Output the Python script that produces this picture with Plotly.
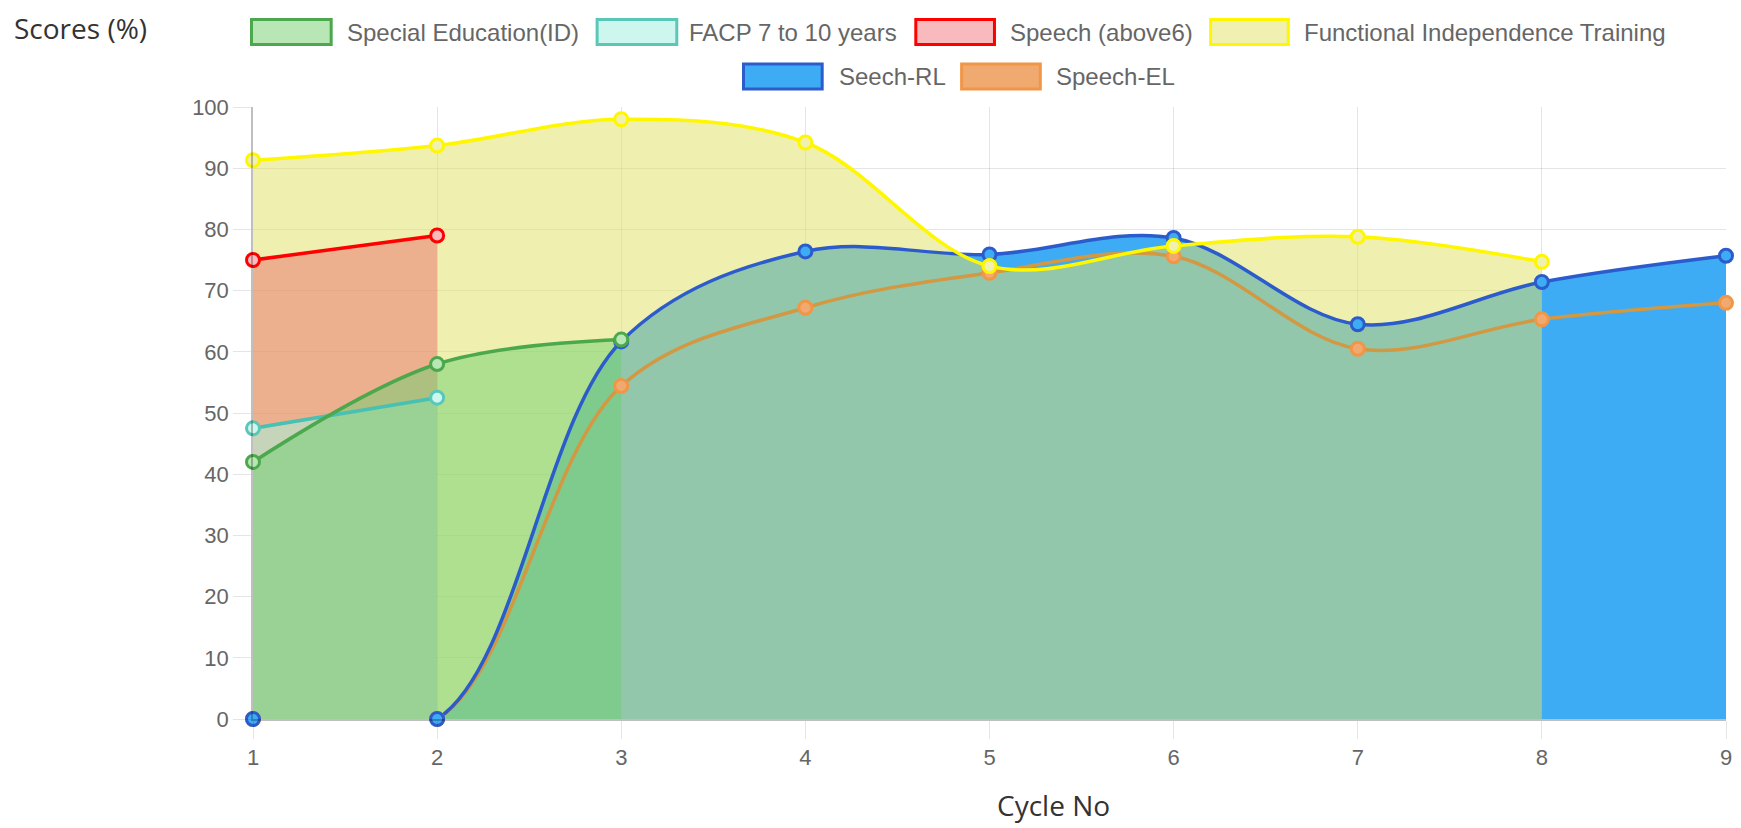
import plotly.graph_objects as go

# ---------------- data ----------------
cycles = [1, 2, 3, 4, 5, 6, 7, 8, 9]
special_ed = [42, 58, 62]
facp = [47.5, 52.5]
speech_above6 = [75, 79]
fit = [91.3, 93.7, 98.0, 94.2, 74.0, 77.3, 78.8, 74.7]
seech_rl = [0, 0, 61.7, 76.4, 75.9, 78.6, 64.5, 71.4, 75.7]
speech_el = [0, 0, 54.4, 67.2, 72.9, 75.6, 60.5, 65.3, 68.0]

y_ticks = list(range(0, 101, 10))
series_names = ["Special Education(ID)", "FACP 7 to 10 years", "Speech (above6)",
                "Functional Independence Training", "Seech-RL", "Speech-EL"]
series_values = [special_ed, facp, speech_above6, fit, seech_rl, speech_el]

# ---------------- styles ----------------
line_colors = ["rgb(76,168,76)", "rgb(72,192,178)", "rgb(255,0,0)",
               "rgb(255,247,0)", "rgb(44,92,204)", "rgb(210,152,66)"]
area_fills = ["rgba(108,208,111,0.49)", "rgba(160,250,230,0.5)", "rgba(235,113,110,0.5)",
              "rgba(224,225,103,0.52)", "rgba(61,172,245,1)", "rgba(255,159,64,0.5)"]
swatch_fills = ["rgb(184,230,180)", "rgb(204,246,238)", "rgb(248,186,188)",
                "rgb(240,240,177)", "rgb(61,172,245)", "rgb(240,170,112)"]
marker_borders = ["rgb(76,168,76)", "rgb(90,200,185)", "rgb(255,0,0)",
                  "rgb(255,247,0)", "rgb(44,92,204)", "rgb(240,150,70)"]
SMOOTH = 1.0

fig = go.Figure()
order = list(range(len(series_names)))[::-1]  # last dataset at the bottom

# fills first
for i in order:
    vals = series_values[i]
    fig.add_trace(go.Scatter(
        x=cycles[:len(vals)], y=vals, mode="none", fill="tozeroy",
        fillcolor=area_fills[i], line=dict(shape="spline", smoothing=SMOOTH),
        showlegend=False, hoverinfo="skip"))
# lines on top of all fills
for i in order:
    vals = series_values[i]
    fig.add_trace(go.Scatter(
        x=cycles[:len(vals)], y=vals, mode="lines",
        line=dict(color=line_colors[i], width=3.5, shape="spline", smoothing=SMOOTH),
        showlegend=False, cliponaxis=True, name=series_names[i]))
# point markers
for i in order:
    vals = series_values[i]
    fig.add_trace(go.Scatter(
        x=cycles[:len(vals)], y=vals, mode="markers",
        marker=dict(size=13, color=swatch_fills[i],
                    line=dict(color=marker_borders[i], width=3)),
        showlegend=False, cliponaxis=False, name=series_names[i]))

# ---------------- geometry helpers (layout positions in pixels) ----------------
W, H = 1741, 828
ML, MR, MT, MB = 253, 9, 107, 109
PW, PH = W - ML - MR, H - MT - MB


def px_x(X):
    return (X - ML) / PW


def px_y(Y):
    return (H - MB - Y) / PH


# custom legend (Chart.js style boxes), two centred rows
legend_boxes = [  # (left, right, top, bottom, text_left)
    (251.5, 331.5, 19.5, 44.5, 345),
    (598.5, 678.5, 19.5, 44.5, 689),
    (918.5, 997.5, 19.5, 44.5, 1011),
    (1214.5, 1292.5, 19.5, 44.5, 1306),
    (745.5, 824.5, 64, 89, 839),
    (964.5, 1043.5, 64, 89, 1057),
]
shapes = []
annotations = []
for i, (x0, x1, y0, y1, tx) in enumerate(legend_boxes):
    shapes.append(dict(type="rect", xref="paper", yref="paper",
                       x0=px_x(x0), x1=px_x(x1), y0=px_y(y1), y1=px_y(y0),
                       fillcolor=swatch_fills[i], line=dict(color=marker_borders[i], width=3)))
    annotations.append(dict(text=series_names[i], xref="paper", yref="paper",
                            x=px_x(tx), y=px_y((y0 + y1) / 2), xanchor="left", yanchor="middle",
                            showarrow=False,
                            font=dict(family="Liberation Sans, Arial", size=24, color="#666")))

annotations.append(dict(text="Scores (%)", xref="paper", yref="paper",
                        x=px_x(11), y=px_y(28), xanchor="left", yanchor="middle", showarrow=False,
                        font=dict(family="Open Sans", size=28, color="#333")))
annotations.append(dict(text="Cycle No", xref="paper", yref="paper",
                        x=px_x(1057), y=px_y(805), xanchor="center", yanchor="middle", showarrow=False,
                        font=dict(family="Open Sans", size=28, color="#333")))

axis_common = dict(
    showgrid=True, gridcolor="rgba(0,0,0,0.1)", gridwidth=1,
    ticks="outside", ticklen=18, tickcolor="rgba(0,0,0,0.1)", tickwidth=1,
    tickfont=dict(family="Liberation Sans, Arial", size=22, color="#666"),
    showline=True, linecolor="rgba(0,0,0,0.25)", linewidth=1.5, zeroline=False,
)

fig.update_layout(
    width=W, height=H,
    margin=dict(l=ML, r=MR, t=MT, b=MB, pad=0),
    paper_bgcolor="white", plot_bgcolor="white",
    showlegend=False,
    xaxis=dict(range=[1, 9], tickvals=cycles, **axis_common),
    yaxis=dict(range=[0, 100], tickvals=y_ticks, **axis_common),
    shapes=shapes, annotations=annotations,
)

fig.write_html("out.html", config={"displayModeBar": False},
               post_script="document.body.style.margin='0';document.body.style.overflow='hidden';")
